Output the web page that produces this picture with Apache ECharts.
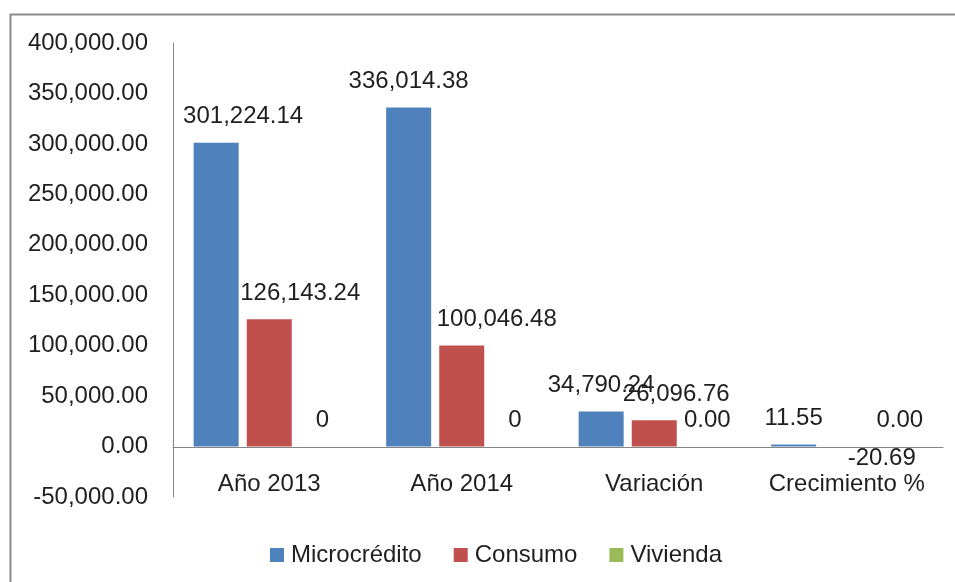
<!DOCTYPE html>
<html>
<head>
<meta charset="utf-8">
<script src="https://cdn.jsdelivr.net/npm/echarts@6/dist/echarts.min.js"></script>
<style>
  html, body { margin: 0; padding: 0; background: #fff; }
  #container1 { width: 955px; height: 582px; }
</style>
</head>
<body>
<div id="container1"></div>
<script>
// categorías y valores
var categorias = ['Año 2013', 'Año 2014', 'Variación', 'Crecimiento %'];
var microcredito = [301224.14, 336014.38, 34790.24, 11.55];
var consumo = [126143.24, 100046.48, 26096.76, -20.69];
var vivienda = [0, 0, 0.00, 0.00];
var viviendaDecimales = [0, 0, 2, 2]; // Excel muestra "0" en los dos primeros
var yMin = -50000, yMax = 400000, yPaso = 50000;

var fuente = 'Liberation Sans';
var colorTexto = '#1f1f1f';
var tam = 24;

function fmt(v, dec) {
    return v.toLocaleString('en-US', {minimumFractionDigits: dec, maximumFractionDigits: dec});
}

// desplazamientos horizontales de las etiquetas (movidas a mano en el original)
var dxMicro = [27, 0, 0, 0];
var dxConsumo = [31, 35, 22, 35];

function datos(valores, dx, decimales) {
    return valores.map(function (v, i) {
        return {
            value: v,
            label: {
                position: v < 0 ? 'bottom' : 'top',
                distance: v < 0 ? 0 : 14,
                offset: [dx ? dx[i] : 0, 0],
                formatter: fmt(v, decimales ? decimales[i] : 2)
            }
        };
    });
}

var myChart = echarts.init(document.getElementById('container1'));
var etiqueta = {show: true, fontFamily: fuente, fontSize: tam, color: colorTexto};

var option = {
    backgroundColor: '#fff',
    animation: false,
    color: ['#4F81BD', '#C0504D', '#9BBB59'],
    textStyle: {fontFamily: fuente},
    graphic: [{
        type: 'rect',
        left: 8, top: 12,
        shape: {width: 980, height: 620},
        style: {fill: 'none', stroke: '#8a8a8a', lineWidth: 2},
        silent: true
    }],
    grid: {left: 173, right: 12, top: 43, bottom: 85, containLabel: false},
    legend: {
        data: ['Microcrédito', 'Consumo', 'Vivienda'],
        left: 265, top: 538,
        icon: 'rect', itemWidth: 14, itemHeight: 14, itemGap: 32,
        textStyle: {fontFamily: fuente, fontSize: tam, color: colorTexto, padding: [0, 0, 0, 2]}
    },
    xAxis: [{
        type: 'category',
        data: categorias,
        // el eje se dibuja sobre el cero (50,000 = 50 px por debajo)
        offset: -50,
        axisLine: {onZero: false, lineStyle: {color: '#868686', width: 1}},
        axisTick: {show: false},
        axisLabel: {fontFamily: fuente, fontSize: tam, color: colorTexto, margin: 25,
                    interval: 0, hideOverlap: false}
    }],
    yAxis: [{
        type: 'value',
        min: yMin, max: yMax, interval: yPaso,
        splitLine: {show: false},
        axisTick: {show: false},
        axisLine: {show: true, lineStyle: {color: '#868686', width: 1}},
        axisLabel: {
            fontFamily: fuente, fontSize: tam, color: colorTexto, margin: 25,
            formatter: function (v) { return fmt(v, 2); }
        }
    }],
    series: [
        {name: 'Microcrédito', type: 'bar', barWidth: 45, barMinHeight: 2, label: etiqueta,
         data: datos(microcredito, dxMicro)},
        {name: 'Consumo', type: 'bar', barWidth: 45, label: etiqueta,
         data: datos(consumo, dxConsumo)},
        {name: 'Vivienda', type: 'bar', barWidth: 45, barGap: '18%', label: etiqueta,
         data: datos(vivienda, null, viviendaDecimales)}
    ]
};
myChart.setOption(option, true);
</script>
</body>
</html>
